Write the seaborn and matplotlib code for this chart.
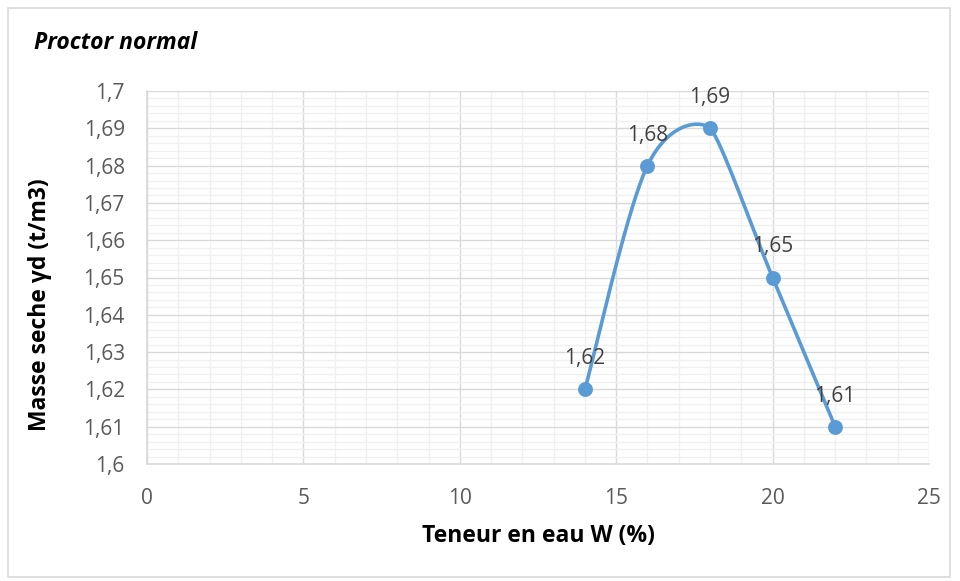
import numpy as np
import matplotlib
matplotlib.use("Agg")
import matplotlib.pyplot as plt
from matplotlib.patches import Rectangle
from matplotlib.ticker import MultipleLocator, FuncFormatter
import seaborn as sns

# Proctor test results
teneur_eau = [14, 16, 18, 20, 22]             # W (%)
masse_seche = [1.62, 1.68, 1.69, 1.65, 1.61]  # yd (t/m3)
labels = ["1,62", "1,68", "1,69", "1,65", "1,61"]

# smoothing tension at each point of the curve
tension = [1 / 6, 1 / 6, 0.08, 1 / 6, 1 / 6]

x_ticks = [0, 5, 10, 15, 20, 25]
y_ticks = [1.60, 1.61, 1.62, 1.63, 1.64, 1.65, 1.66, 1.67, 1.68, 1.69, 1.70]

sns.set_theme(style="white")
plt.rcParams["font.family"] = ["Open Sans", "DejaVu Sans"]

BLUE = "#5B9BD5"
TICK = "#595959"


def smooth_curve(xs, ys, tens, n=80):
    """Cubic Bezier smoothing through the points."""
    p = np.column_stack([xs, ys]).astype(float)
    out = []
    for i in range(len(p) - 1):
        p0 = p[i - 1] if i > 0 else p[i]
        p1, p2 = p[i], p[i + 1]
        p3 = p[i + 2] if i + 2 < len(p) else p[i + 1]
        c1 = p1 + (p2 - p0) * tens[i]
        c2 = p2 - (p3 - p1) * tens[i + 1]
        t = np.linspace(0, 1, n)[:, None]
        seg = ((1 - t) ** 3) * p1 + 3 * ((1 - t) ** 2) * t * c1 \
            + 3 * (1 - t) * t ** 2 * c2 + t ** 3 * p2
        out.append(seg if i == 0 else seg[1:])
    s = np.vstack(out)
    return s[:, 0], s[:, 1]


fig = plt.figure(figsize=(9.6, 5.81), dpi=100)
ax = fig.add_axes([147 / 960, 1 - 464 / 581, (929 - 147) / 960, (464 - 91) / 581])

sx, sy = smooth_curve(teneur_eau, masse_seche, tension)
sns.lineplot(x=sx, y=sy, ax=ax, color=BLUE, linewidth=2.6, sort=False,
             estimator=None, zorder=3)
sns.scatterplot(x=teneur_eau, y=masse_seche, ax=ax, color=BLUE, s=115,
                edgecolor=BLUE, linewidth=0, zorder=4)

for xv, yv, lab in zip(teneur_eau, masse_seche, labels):
    ax.annotate(lab, (xv, yv), xytext=(0, 22), textcoords="offset points",
                ha="center", va="center", fontsize=15, color="#404040",
                zorder=5)

ax.set_xlim(0, 25)
ax.set_ylim(1.6, 1.7)
ax.set_xticks(x_ticks)
ax.set_yticks(y_ticks)
ax.xaxis.set_minor_locator(MultipleLocator(1))
ax.yaxis.set_minor_locator(MultipleLocator(0.002))
ax.xaxis.set_major_formatter(FuncFormatter(lambda v, _: f"{v:g}"))
ax.yaxis.set_major_formatter(
    FuncFormatter(lambda v, _: f"{round(v, 2):g}".replace(".", ",")))

ax.grid(which="major", color="#d9d9d9", linewidth=1.0)
ax.grid(which="minor", color="#f0f0f0", linewidth=1.0)
ax.set_axisbelow(True)

for side in ["top", "right"]:
    ax.spines[side].set_visible(False)
for side in ["left", "bottom"]:
    ax.spines[side].set_color("#d9d9d9")
    ax.spines[side].set_linewidth(1.2)

ax.tick_params(axis="both", which="both", length=0, labelsize=15,
               labelcolor=TICK)
ax.tick_params(axis="x", pad=17)
ax.tick_params(axis="y", pad=16)

ax.set_xlabel("Teneur en eau W (%)", fontsize=16.5, fontweight="bold",
              color="black")
ax.set_ylabel("Masse seche γd (t/m3)", fontsize=16.5, fontweight="bold",
              color="black")
ax.xaxis.set_label_coords(538 / 960, 1 - 536 / 581, transform=fig.transFigure)
ax.yaxis.set_label_coords(40 / 960, 1 - 305 / 581, transform=fig.transFigure)
ax.xaxis.label.set_verticalalignment("center")
ax.yaxis.label.set_verticalalignment("center")

fig.text(34 / 960, 1 - 43 / 581, "Proctor normal", fontsize=16.5,
         fontweight="bold", fontstyle="italic", color="black",
         ha="left", va="center")

fig.patches.append(Rectangle((8 / 960, 1 - 577 / 581), 942 / 960, 569 / 581,
                             transform=fig.transFigure, fill=False,
                             edgecolor="#d9d9d9", linewidth=1.2))

fig.savefig("out.png", dpi=100, facecolor="white")
